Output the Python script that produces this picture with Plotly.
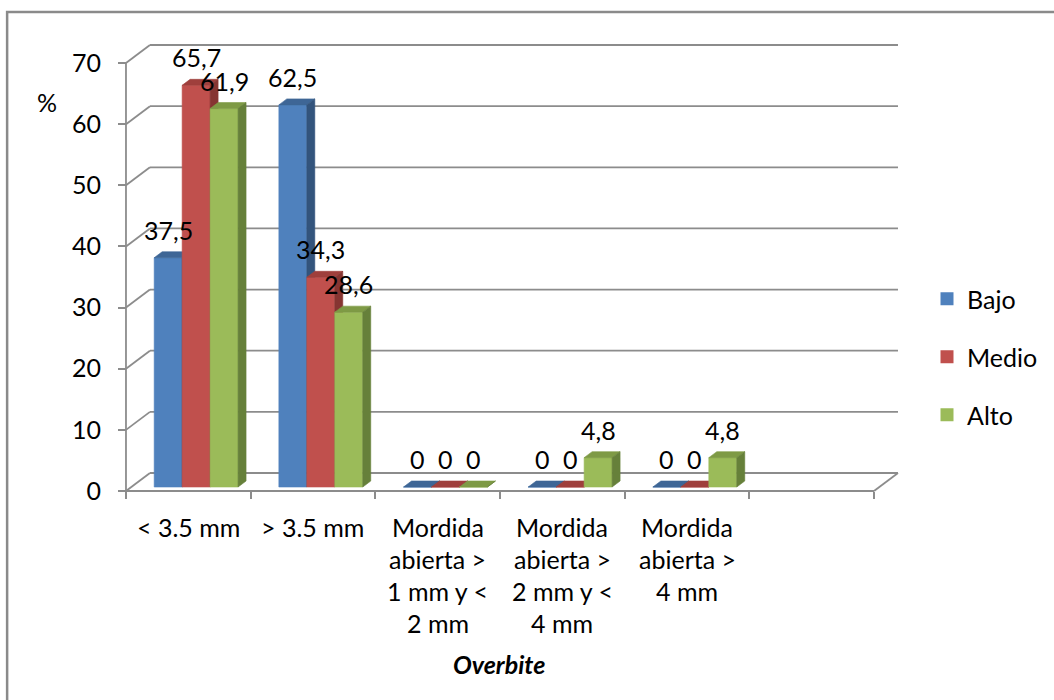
import plotly.graph_objects as go

# ---- data ----
categories = [
    "< 3.5 mm",
    "> 3.5 mm",
    "Mordida\nabierta >\n1 mm y <\n2 mm",
    "Mordida\nabierta >\n2 mm y <\n4 mm",
    "Mordida\nabierta >\n4 mm",
]
series_names = ["Bajo", "Medio", "Alto"]
bajo = [37.5, 62.5, 0, 0, 0]
medio = [65.7, 34.3, 0, 0, 0]
alto = [61.9, 28.6, 0, 4.8, 4.8]
y_ticks = [0, 10, 20, 30, 40, 50, 60, 70]
y_title = "%"
x_title = "Overbite"

# ---- styling ----
FRONT = ["#4F81BD", "#C0504D", "#9BBB59"]
TOP = ["#3E6696", "#9F3F3C", "#7E9A45"]
SIDE = ["#33547C", "#863532", "#66803A"]
GRID = "#8C8C8C"
FONT = "Lato, 'Open Sans', sans-serif"
FS = 25

W, H = 1054, 700
L, R, T, B = 110, 144, 40, 200
PW, PH = W - L - R, H - T - B
X_UNIT = 124.83          # px per category slot
Y_UNIT = 6.114           # px per percentage point
X_FRONT_PX = 126         # left edge of the floor (front)
Y_ZERO_PX = 491          # floor front edge
n_slots = len(categories) + 1

x_lo = -0.5 - (X_FRONT_PX - L) / X_UNIT
x_hi = x_lo + PW / X_UNIT
y_lo = -(T + PH - Y_ZERO_PX) / Y_UNIT
y_hi = y_lo + PH / Y_UNIT

# oblique depth of the floor, in data units
DX = 24 / X_UNIT
DY = 18 / Y_UNIT
T0, T1 = 0.222, 0.555    # depth of bar front and back faces
BAR_W = 0.2243
CLUSTER_SHIFT = 2.5 / X_UNIT


def px_x(px):
    return (px - L) / PW


def px_y(py):
    return (T + PH - py) / PH


def at(x, y, t):
    return x + t * DX, y + t * DY


fig = go.Figure()

values = [bajo, medio, alto]
annotations = []
for c in range(len(categories)):
    for k, vals in enumerate(values):
        v = vals[c]
        xc = c + CLUSTER_SHIFT + (k - 1) * BAR_W
        x0, x1 = xc - BAR_W / 2, xc + BAR_W / 2
        faces = [
            ([(x0, 0, T0), (x1, 0, T0), (x1, v, T0), (x0, v, T0)], FRONT[k]),
            ([(x0, v, T0), (x1, v, T0), (x1, v, T1), (x0, v, T1)], TOP[k]),
            ([(x1, 0, T0), (x1, v, T0), (x1, v, T1), (x1, 0, T1)], SIDE[k]),
        ]
        for pts, col in faces:
            xs, ys = zip(*[at(px, py, t) for px, py, t in pts])
            fig.add_trace(go.Scatter(
                x=list(xs) + [xs[0]], y=list(ys) + [ys[0]],
                mode="lines", fill="toself", fillcolor=col,
                line=dict(color=col, width=0.6),
                hoverinfo="skip", showlegend=False,
            ))
        lx, ly = at(xc, v, T0)
        annotations.append(dict(
            x=lx, y=ly, xref="x", yref="y", yshift=28,
            text=f"{v:g}".replace(".", ","), showarrow=False,
            font=dict(family=FONT, size=FS, color="#000000"),
            xanchor="center", yanchor="middle",
        ))

# legend entries, one legend box per series
legend_y = [299, 357, 415]
for k, name in enumerate(series_names):
    key = "legend" if k == 0 else f"legend{k + 1}"
    fig.add_trace(go.Scatter(
        x=[None], y=[None], mode="markers", name=name,
        marker=dict(symbol="square", size=13, color=FRONT[k]),
        legend=key,
    ))

# walls, floor and front axis lines
shapes = []
line = dict(color=GRID, width=1.8)
for v in y_ticks:
    bx0, by = at(-0.5, v, 1)
    bx1, _ = at(n_slots - 0.5, v, 1)
    shapes.append(dict(type="line", xref="x", yref="y", x0=bx0, y0=by,
                       x1=bx1, y1=by, line=line, layer="below"))
    shapes.append(dict(type="line", xref="x", yref="y", x0=-0.5, y0=v,
                       x1=bx0, y1=by, line=line, layer="below"))
# floor front edge and right edge
shapes.append(dict(type="line", xref="x", yref="y", x0=-0.5, y0=0,
                   x1=n_slots - 0.5, y1=0, line=line, layer="below"))
rx, ry = at(n_slots - 0.5, 0, 1)
shapes.append(dict(type="line", xref="x", yref="y", x0=n_slots - 0.5, y0=0,
                   x1=rx, y1=ry, line=line, layer="below"))
# vertical value axis
shapes.append(dict(type="line", xref="x", yref="y", x0=-0.5, y0=0,
                   x1=-0.5, y1=max(y_ticks), line=line, layer="below"))
# chart area border
shapes.append(dict(type="rect", xref="paper", yref="paper",
                   x0=px_x(7), y0=px_y(720), x1=px_x(1070), y1=px_y(12),
                   line=dict(color="#8A8A8A", width=2.5), layer="below"))

# category labels, one annotation per line
LINE_H = 32
for c, lab in enumerate(categories):
    for i, part in enumerate(lab.split("\n")):
        annotations.append(dict(
            x=c, y=px_y(527 + i * LINE_H), xref="x", yref="paper",
            text=part, showarrow=False,
            font=dict(family=FONT, size=FS, color="#000000"),
            xanchor="center", yanchor="middle",
        ))

annotations.append(dict(
    x=px_x(499), y=px_y(664), xref="paper", yref="paper",
    text=f"<b><i>{x_title}</i></b>", showarrow=False,
    font=dict(family=FONT, size=FS, color="#000000"),
    xanchor="center", yanchor="middle",
))
annotations.append(dict(
    x=px_x(47), y=px_y(102), xref="paper", yref="paper",
    text=y_title, showarrow=False,
    font=dict(family=FONT, size=FS, color="#000000"),
    xanchor="center", yanchor="middle",
))

legend_common = dict(
    font=dict(family=FONT, size=FS, color="#000000"),
    xanchor="left", yanchor="middle", bgcolor="rgba(0,0,0,0)",
    borderwidth=0,
)

fig.update_layout(
    width=W, height=H,
    margin=dict(l=L, r=R, t=T, b=B),
    paper_bgcolor="white", plot_bgcolor="white",
    showlegend=True,
    legend=dict(x=px_x(927), y=px_y(legend_y[0]), **legend_common),
    legend2=dict(x=px_x(927), y=px_y(legend_y[1]), **legend_common),
    legend3=dict(x=px_x(927), y=px_y(legend_y[2]), **legend_common),
    xaxis=dict(
        range=[x_lo, x_hi], showgrid=False, zeroline=False, showline=False,
        tickmode="array", tickvals=[i - 0.5 for i in range(n_slots + 1)],
        showticklabels=False, ticks="outside", ticklen=7, tickwidth=1.8,
        tickcolor=GRID, anchor="free", position=px_y(Y_ZERO_PX),
        fixedrange=True,
    ),
    yaxis=dict(
        range=[y_lo, y_hi], showgrid=False, zeroline=False, showline=False,
        tickmode="array", tickvals=y_ticks, ticks="outside", ticklen=8,
        tickwidth=1.8, tickcolor=GRID, anchor="free",
        position=px_x(X_FRONT_PX), ticklabelstandoff=12,
        tickfont=dict(family=FONT, size=FS, color="#000000"),
        fixedrange=True,
    ),
    annotations=annotations,
    shapes=shapes,
)

fig.write_html("out.html")
